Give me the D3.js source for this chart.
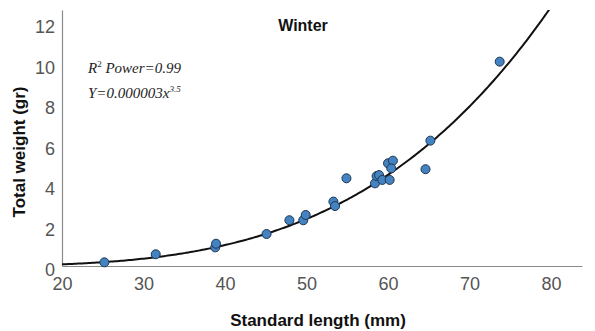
<!DOCTYPE html>
<html>
<head>
<meta charset="utf-8">
<script src="https://cdn.jsdelivr.net/npm/d3@7"></script>
<style>
  body { margin: 0; background: #fff; }
  .tick text { font-family: "Liberation Sans", Arial, sans-serif; fill: #555; }
</style>
</head>
<body>
<div id="vis"></div>
<script>
// Declare constants
const FRAME_WIDTH = 595;
const FRAME_HEIGHT = 331;

// data
const LENGTHS = [25.2, 31.5, 38.8, 38.9, 45.1, 47.9, 49.6, 49.9, 53.3, 53.5, 54.9,
                 58.4, 58.6, 58.9, 59.3, 60.2, 60.0, 60.6, 60.4, 64.6, 65.2, 73.7];
const WEIGHTS = [0.18, 0.58, 0.92, 1.10, 1.58, 2.26, 2.26, 2.52, 3.18, 2.96, 4.33,
                 4.08, 4.44, 4.49, 4.25, 4.25, 5.07, 5.20, 4.82, 4.78, 6.19, 10.09];
const X_TICKS = [20, 30, 40, 50, 60, 70, 80];
const Y_TICKS = [0, 2, 4, 6, 8, 10, 12];
// power curve Y = a * x^b, as drawn (the label shows the rounded values)
const FIT_A = 0.00000158;
const FIT_B = 3.63;

const FRAME = d3.select("#vis")
                .append("svg")
                  .attr("width", FRAME_WIDTH)
                  .attr("height", FRAME_HEIGHT);

// scale functions
const X_SCALE = d3.scaleLinear()
                  .domain([20, 83.8])
                  .range([62, 582]);

const Y_SCALE = d3.scaleLinear()
                  .domain([0, 12.64])
                  .range([266, 10]);

// clip for the fit line
FRAME.append("clipPath")
      .attr("id", "plot-clip")
    .append("rect")
      .attr("x", X_SCALE.range()[0])
      .attr("y", Y_SCALE.range()[1])
      .attr("width", X_SCALE.range()[1] - X_SCALE.range()[0])
      .attr("height", Y_SCALE.range()[0] - Y_SCALE.range()[1]);

// axes
const xAxis = FRAME.append("g")
                .attr("transform", "translate(0," + Y_SCALE(0) + ")")
                .call(d3.axisBottom(X_SCALE)
                        .tickValues(X_TICKS)
                        .tickSize(0)
                        .tickPadding(11));
xAxis.selectAll("text").attr("font-size", "18px");

const yAxis = FRAME.append("g")
                .attr("transform", "translate(" + X_SCALE(20) + ",0)")
                .call(d3.axisLeft(Y_SCALE)
                        .tickValues(Y_TICKS)
                        .tickSize(0)
                        .tickPadding(7));
yAxis.selectAll("text").attr("font-size", "18px").attr("dy", "0.55em");

FRAME.selectAll(".domain")
      .attr("stroke", "#8a8a8a")
      .attr("stroke-width", 1.2);

// fitted curve
const curveX = d3.range(20, 84, 0.25);
const line = d3.line()
               .x((d) => X_SCALE(d))
               .y((d) => Y_SCALE(FIT_A * Math.pow(d, FIT_B)));

FRAME.append("path")
      .datum(curveX)
      .attr("d", line)
      .attr("clip-path", "url(#plot-clip)")
      .attr("fill", "none")
      .attr("stroke", "#111")
      .attr("stroke-width", 2);

// data points
FRAME.selectAll(".point")
      .data(LENGTHS)
      .enter()
      .append("circle")
        .attr("class", "point")
        .attr("cx", (d) => X_SCALE(d))
        .attr("cy", (d, i) => Y_SCALE(WEIGHTS[i]))
        .attr("r", 4.5)
        .attr("fill", "#4383c2")
        .attr("stroke", "#1f3550")
        .attr("stroke-width", 1);

// title
FRAME.append("text")
      .attr("x", 303)
      .attr("y", 31)
      .attr("text-anchor", "middle")
      .attr("font-family", "Liberation Sans, Arial, sans-serif")
      .attr("font-weight", "bold")
      .attr("font-size", "16px")
      .attr("fill", "#111")
      .text("Winter");

// fit annotation
const note = FRAME.append("g")
               .attr("font-family", "Liberation Serif, Times New Roman, serif")
               .attr("font-style", "italic")
               .attr("font-size", "15px")
               .attr("fill", "#222");

const line1 = note.append("text").attr("x", 88).attr("y", 73);
line1.append("tspan").text("R");
line1.append("tspan").attr("font-size", "9px").attr("dy", -6).attr("font-style", "normal").text("2");
line1.append("tspan").attr("dy", 6).text(" Power=0.99");

const line2 = note.append("text").attr("x", 88).attr("y", 98);
line2.append("tspan").text("Y=0.000003x");
line2.append("tspan").attr("font-size", "9px").attr("dy", -6).text("3.5");

// axis titles
FRAME.append("text")
      .attr("x", 318)
      .attr("y", 326)
      .attr("text-anchor", "middle")
      .attr("font-family", "Liberation Sans, Arial, sans-serif")
      .attr("font-weight", "bold")
      .attr("font-size", "17px")
      .attr("fill", "#111")
      .text("Standard length (mm)");

FRAME.append("text")
      .attr("transform", "translate(25,152) rotate(-90)")
      .attr("text-anchor", "middle")
      .attr("font-family", "Liberation Sans, Arial, sans-serif")
      .attr("font-weight", "bold")
      .attr("font-size", "17px")
      .attr("fill", "#111")
      .text("Total weight (gr)");
</script>
</body>
</html>
